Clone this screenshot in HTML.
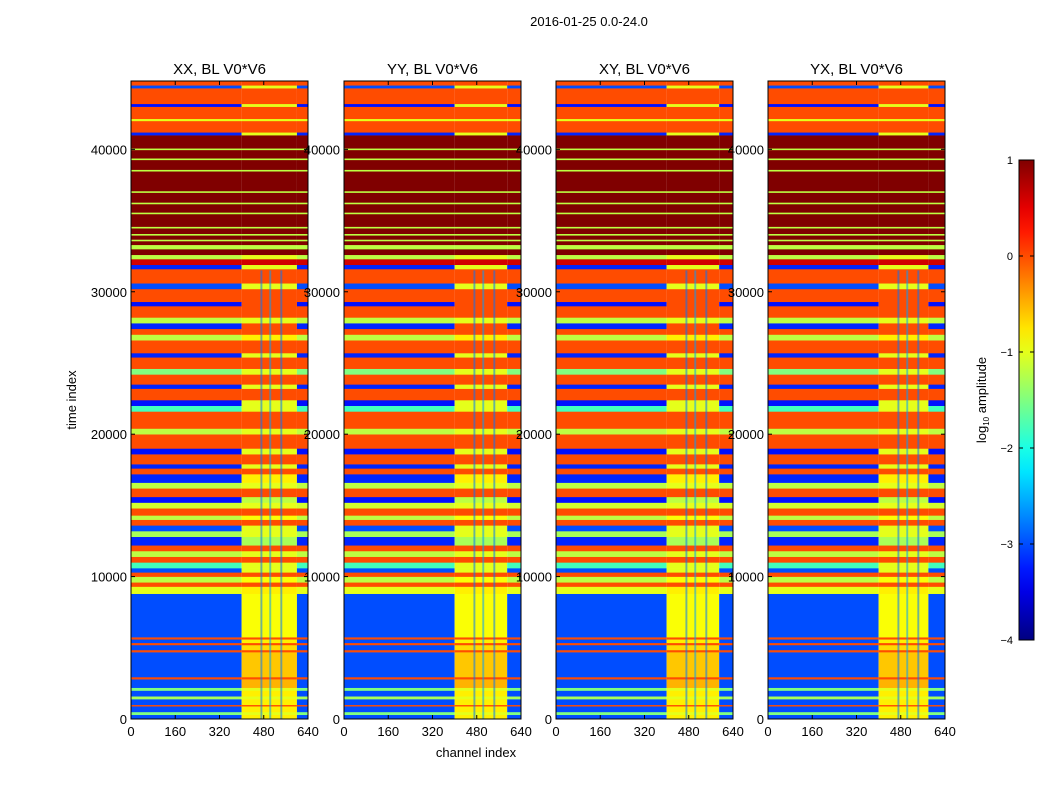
<!DOCTYPE html>
<html><head><meta charset="utf-8">
<style>
html,body{margin:0;padding:0;background:#fff;}
svg{display:block;font-family:"Liberation Sans","DejaVu Sans",sans-serif;}
</style></head>
<body>
<svg id="chart" width="1050" height="800" viewBox="0 0 1050 800">
<text x="589" y="26" font-size="13" text-anchor="middle">2016-01-25 0.0-24.0</text>
<text x="76" y="400" font-size="13" text-anchor="middle" transform="rotate(-90 76 400)">time index</text>
<text x="476" y="757" font-size="13" text-anchor="middle">channel index</text>
<g id="panels"></g>
<g id="cbar"></g>
<text x="986" y="400" font-size="13" text-anchor="middle" transform="rotate(-90 986 400)">log<tspan font-size="8" dy="3">10</tspan><tspan dy="-3"> amplitude</tspan></text>
</svg>
<script>
const panelTitles=["XX, BL V0*V6","YY, BL V0*V6","XY, BL V0*V6","YX, BL V0*V6"];
const panelLefts=[131,344,556,768];
const highStart=[400,400,400,400];
const highEnd=[600,590,590,580];
const bandStarts=[0,300,500,900,1000,1400,1600,2000,2200,2800,2950,4700,4850,5200,5350,5600,5750,8800,9300,9600,10000,10300,10600,11000,11400,11800,12200,12800,13200,13600,14000,14300,14800,15200,15600,16200,16600,17200,17600,17900,18600,19000,20000,20400,21600,22000,22400,23200,23500,24200,24600,25400,25700,26600,27000,27400,27800,28200,29000,29300,30200,30600,31600,31900,32300,32600,33000,33300,41000,41200,42000,42150,43000,43200,44300,44500];
const bandLow=[-3.0,-1.5,-3.0,0,-3.0,-1.3,-3.0,-1.5,-3.0,0,-3.0,0,-3.0,0,-3.0,0,-3.0,-1.0,0,-1.2,0,-3,-1.8,0,-1.2,0,-3.2,-1.3,-3.0,0,-1.2,0,-1.1,-3.3,0,-1.2,-3.2,0,-3.2,0,-3.3,0,-1.2,0,-1.8,-3.3,0,-3.2,0,-1.5,0,-3.2,0,-1.2,0,-3.2,-1.2,0,-3.3,0,-3,0,-3.2,0.6,-1.2,1,-1.2,1,-3.2,0,-1,0,-3.3,0,-3,0];
const bandHigh=[-0.8,-1,-0.8,0,-0.8,-1,-0.8,-1,-0.5,0,-0.6,0,-0.7,0,-0.8,0,-0.9,-0.8,0,-0.9,0,-1,-1,0,-1,0,-1.3,-1,-1,0,-0.9,0,-1,-1.2,0,-1,-0.8,0,-1,0,-1,0,-1,0,-1,-1,0,-1,0,-1,0,-1,0,-0.8,0,0,-1,0,0,0,-1,0,-1,0.6,-1,1,-1.2,1,-1,0,-1,0,-1,0,-1,0];
const greenLines=[33600,34000,34500,35500,36200,37000,38500,39300,40000];
const stripeChannels=[468,500,540];
const stripeVal=[-2.8,-2.6,-2.8];
const stripeEnd=31500;
const xTicks=[0,160,320,480,640];
const yTicks=[0,10000,20000,30000,40000];
const cbTicks=[1,0,-1,-2,-3,-4];
const tMax=44800, chMax=640, vMin=-4, vMax=1;
const pW=177, pTop=81, pBot=719;
function sx(p,c){return panelLefts[p]+c/chMax*pW;}
function sy(t){return pBot-t/tMax*(pBot-pTop);}
function jet(v){let f=(v-vMin)/(vMax-vMin);f=Math.max(0,Math.min(1,f));
 const cl=x=>Math.max(0,Math.min(1,x));
 const r=cl(1.5-Math.abs(4*f-3)),g=cl(1.5-Math.abs(4*f-2)),b=cl(1.5-Math.abs(4*f-1));
 return `rgb(${Math.round(r*255)},${Math.round(g*255)},${Math.round(b*255)})`;}
const NS="http://www.w3.org/2000/svg";
function mk(tag,attrs,parent){const e=document.createElementNS(NS,tag);for(const k in attrs)e.setAttribute(k,attrs[k]);parent.appendChild(e);return e;}
const panels=document.getElementById('panels');
for(let p=0;p<4;p++){
 const g=mk('g',{},panels);
 
 
 for(let i=0;i<bandStarts.length;i++){
  const t0=bandStarts[i],t1=i+1<bandStarts.length?bandStarts[i+1]:tMax;
  const y0=sy(t1),h=sy(t0)-sy(t1);
  const r1=mk('rect',{x:sx(p,0),y:y0,width:sx(p,highStart[p])-sx(p,0),height:h+0.3,fill:jet(bandLow[i])},g);
  
  
  const r2=mk('rect',{x:sx(p,highStart[p]),y:y0,width:sx(p,highEnd[p])-sx(p,highStart[p]),height:h+0.3,fill:jet(bandHigh[i])},g);
  
  
  const r3=mk('rect',{x:sx(p,highEnd[p]),y:y0,width:sx(p,chMax)-sx(p,highEnd[p]),height:h+0.3,fill:jet(bandLow[i])},g);
  
  
 }
 for(const t of greenLines){
  const l=mk('rect',{x:sx(p,0),y:sy(t)-0.8,width:pW,height:1.6,fill:jet(-1.2)},g);
  
  
 }
 for(let k=0;k<stripeChannels.length;k++){
  const s=mk('rect',{x:sx(p,stripeChannels[k]),y:sy(stripeEnd),width:sx(p,7)-sx(p,0),height:sy(0)-sy(stripeEnd),fill:jet(stripeVal[k]),opacity:0.55},g);
  
  
 }
 const fr=mk('rect',{x:sx(p,0),y:pTop,width:pW,height:pBot-pTop,fill:'none',stroke:'#000','stroke-width':1},g);
 
 
 const tt=mk('text',{x:sx(p,320),y:74,'font-size':15,'text-anchor':'middle'},g);
 tt.textContent=panelTitles[p];
 
 
 for(const c of xTicks){
  mk('line',{x1:sx(p,c),x2:sx(p,c),y1:pBot,y2:pBot-4,stroke:'#000'},g);
  mk('line',{x1:sx(p,c),x2:sx(p,c),y1:pTop,y2:pTop+4,stroke:'#000'},g);
  const tx=mk('text',{x:sx(p,c),y:736,'font-size':13,'text-anchor':'middle'},g);
  tx.textContent=c;
  
  
 }
 for(const t of yTicks){
  mk('line',{x1:sx(p,0),x2:sx(p,0)+4,y1:sy(t),y2:sy(t),stroke:'#000'},g);
  mk('line',{x1:sx(p,chMax),x2:sx(p,chMax)-4,y1:sy(t),y2:sy(t),stroke:'#000'},g);
  const ty=mk('text',{x:sx(p,0)-4,y:sy(t)+5,'font-size':13,'text-anchor':'end'},g);
  ty.textContent=t;
  
  
 }
}
const cb=document.getElementById('cbar');
const cbX=1019,cbW=15,cbTop=160,cbBot=640;
const defs=mk('defs',{},cb);
const grad=mk('linearGradient',{id:'jetg',x1:0,y1:1,x2:0,y2:0},defs);
for(let i=0;i<=20;i++){mk('stop',{offset:i/20,'stop-color':jet(vMin+(vMax-vMin)*i/20)},grad);}
mk('rect',{x:cbX,y:cbTop,width:cbW,height:cbBot-cbTop,fill:'url(#jetg)',stroke:'#000'},cb);
for(const v of cbTicks){
 const y=cbBot-(v-vMin)/(vMax-vMin)*(cbBot-cbTop);
 mk('line',{x1:cbX+cbW-4,x2:cbX+cbW,y1:y,y2:y,stroke:'#000'},cb);
 mk('line',{x1:cbX,x2:cbX+4,y1:y,y2:y,stroke:'#000'},cb);
 const t=mk('text',{x:1013,y:y+4,'font-size':11,'text-anchor':'end'},cb);
 t.textContent=v<0?'\u2212'+(-v):String(v);
 
 
}
</script>
</body></html>
